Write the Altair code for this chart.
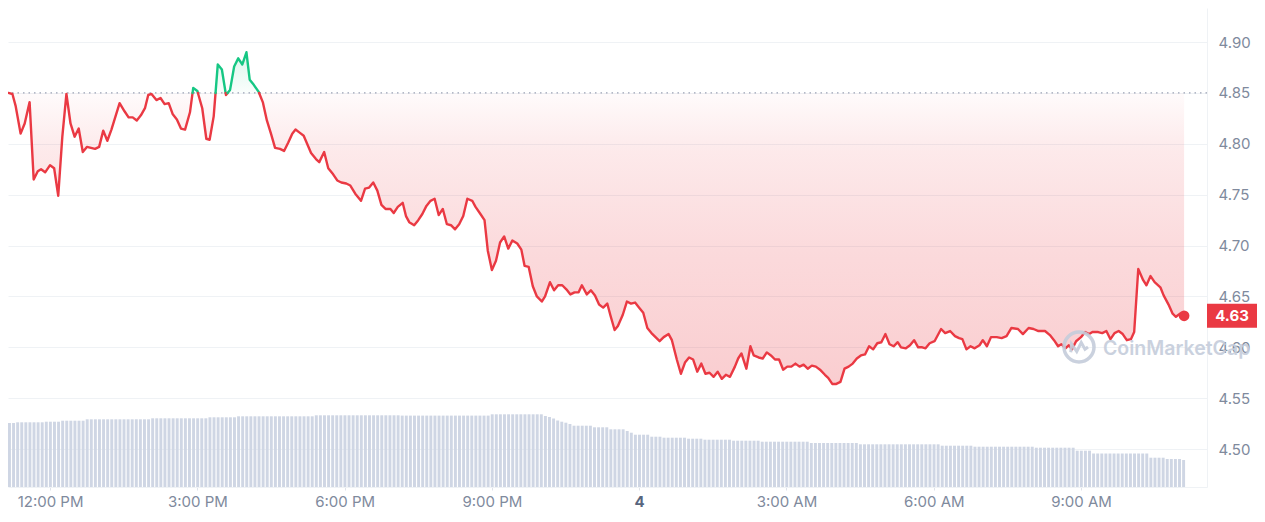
import altair as alt
import pandas as pd

# ---------------- data ----------------
START_MIN = 669          # first sample: 11:09 AM (minutes after midnight, day 3)
BASELINE = 4.85          # opening price (dotted reference line)

OFFSETS = [
    0, 5, 9, 15, 20, 26, 31, 36, 40, 45,
    51, 56, 61, 66, 71, 76, 81, 86, 91, 96,
    101, 106, 111, 116, 121, 126, 131, 136, 142, 147,
    152, 157, 162, 167, 171, 175, 181, 186, 191, 196,
    201, 206, 211, 216, 222, 226, 231, 237, 242, 246,
    251, 256, 261, 266, 271, 276, 281, 286, 291, 295,
    300, 306, 311, 316, 321, 326, 332, 337, 342, 347,
    351, 356, 361, 370, 376, 380, 386, 391, 397, 402,
    407, 413, 418, 424, 431, 436, 441, 446, 451, 456,
    461, 467, 471, 476, 482, 486, 490, 496, 501, 506,
    511, 516, 521, 526, 531, 536, 541, 546, 551, 556,
    561, 567, 571, 577, 582, 586, 591, 596, 601, 606,
    611, 616, 622, 627, 631, 636, 641, 646, 652, 656,
    662, 667, 672, 677, 682, 687, 692, 697, 701, 707,
    712, 717, 722, 727, 732, 736, 741, 745, 751, 756,
    761, 766, 771, 776, 781, 786, 791, 796, 801, 807,
    811, 817, 822, 827, 832, 837, 842, 847, 852, 857,
    862, 867, 872, 877, 882, 888, 892, 896, 902, 907,
    911, 917, 922, 927, 932, 937, 942, 947, 952, 957,
    962, 967, 972, 977, 982, 987, 992, 998, 1002, 1007,
    1012, 1017, 1022, 1027, 1032, 1037, 1042, 1047, 1052, 1057,
    1062, 1067, 1072, 1077, 1082, 1087, 1091, 1097, 1102, 1107,
    1112, 1117, 1121, 1126, 1132, 1140, 1145, 1151, 1157, 1162,
    1166, 1171, 1176, 1181, 1187, 1191, 1196, 1201, 1208, 1214,
    1220, 1226, 1234, 1240, 1247, 1253, 1259, 1267, 1273, 1278,
    1283, 1287, 1292, 1296, 1300, 1305, 1311, 1316, 1321, 1325,
    1332, 1337, 1342, 1347, 1352, 1357, 1362, 1367, 1372, 1376,
    1381, 1387, 1391, 1396, 1401, 1408, 1412, 1418, 1423, 1427,
    1432, 1437,
]

PRICES = [
    4.850, 4.849, 4.837, 4.810, 4.820, 4.841, 4.765, 4.773, 4.775, 4.772,
    4.779, 4.776, 4.749, 4.807, 4.849, 4.820, 4.807, 4.815, 4.792, 4.797,
    4.796, 4.795, 4.797, 4.813, 4.803, 4.814, 4.827, 4.840, 4.832, 4.826,
    4.826, 4.823, 4.828, 4.835, 4.848, 4.849, 4.843, 4.845, 4.839, 4.840,
    4.829, 4.824, 4.815, 4.814, 4.831, 4.855, 4.852, 4.835, 4.805, 4.804,
    4.827, 4.878, 4.873, 4.848, 4.853, 4.876, 4.884, 4.878, 4.890, 4.863,
    4.858, 4.851, 4.841, 4.823, 4.810, 4.796, 4.795, 4.793, 4.801, 4.810,
    4.814, 4.811, 4.808, 4.791, 4.785, 4.782, 4.792, 4.776, 4.770, 4.764,
    4.762, 4.761, 4.759, 4.751, 4.744, 4.756, 4.757, 4.762, 4.754, 4.740,
    4.736, 4.736, 4.732, 4.738, 4.742, 4.729, 4.723, 4.720, 4.725, 4.731,
    4.739, 4.744, 4.746, 4.730, 4.736, 4.721, 4.720, 4.716, 4.721, 4.729,
    4.746, 4.744, 4.738, 4.731, 4.725, 4.695, 4.676, 4.685, 4.703, 4.709,
    4.697, 4.705, 4.702, 4.696, 4.680, 4.679, 4.660, 4.650, 4.645, 4.650,
    4.664, 4.656, 4.661, 4.661, 4.657, 4.652, 4.654, 4.654, 4.661, 4.652,
    4.656, 4.651, 4.642, 4.639, 4.643, 4.631, 4.617, 4.621, 4.632, 4.645,
    4.643, 4.644, 4.639, 4.634, 4.619, 4.614, 4.610, 4.606, 4.610, 4.613,
    4.607, 4.588, 4.574, 4.585, 4.590, 4.588, 4.576, 4.584, 4.574, 4.575,
    4.571, 4.576, 4.569, 4.573, 4.571, 4.581, 4.589, 4.594, 4.579, 4.601,
    4.592, 4.590, 4.589, 4.595, 4.592, 4.588, 4.588, 4.578, 4.581, 4.581,
    4.584, 4.581, 4.583, 4.579, 4.582, 4.581, 4.578, 4.573, 4.570, 4.564,
    4.564, 4.566, 4.579, 4.581, 4.584, 4.589, 4.592, 4.593, 4.601, 4.598,
    4.604, 4.605, 4.613, 4.603, 4.601, 4.605, 4.600, 4.599, 4.602, 4.607,
    4.600, 4.600, 4.599, 4.604, 4.606, 4.618, 4.614, 4.616, 4.611, 4.609,
    4.608, 4.598, 4.601, 4.599, 4.602, 4.607, 4.601, 4.610, 4.610, 4.609,
    4.611, 4.619, 4.618, 4.613, 4.619, 4.618, 4.616, 4.616, 4.612, 4.607,
    4.601, 4.603, 4.599, 4.602, 4.598, 4.606, 4.610, 4.615, 4.613, 4.615,
    4.615, 4.614, 4.616, 4.608, 4.614, 4.616, 4.613, 4.607, 4.608, 4.615,
    4.677, 4.666, 4.661, 4.670, 4.664, 4.659, 4.651, 4.642, 4.633, 4.630,
    4.633, 4.631,
]

# 24h volume, one bar per 5 minutes (value, number of consecutive bars)
VOLUME_RUNS = [
    (64.0, 2), (64.7, 7), (65.3, 4), (66.3, 6), (67.7, 16), (68.7, 14),
    (69.7, 7), (70.7, 19), (71.7, 21), (71.4, 22), (72.7, 13),
    (71.0, 1), (70.0, 1), (68.5, 1), (66.5, 1), (65.3, 1), (64.3, 1),
    (63.0, 1), (61.3, 5), (59.7, 4), (57.7, 4), (56.0, 1), (54.3, 1),
    (52.3, 4), (50.3, 3), (49.3, 6), (48.3, 4), (47.3, 7), (46.3, 7),
    (45.3, 12), (44.0, 12), (42.7, 20), (41.3, 8), (40.3, 15), (39.3, 10),
    (36.3, 4), (33.5, 14), (29.3, 4), (28.0, 4), (27.0, 1),
]

Y_TICKS = [4.50, 4.55, 4.60, 4.65, 4.70, 4.75, 4.80, 4.85, 4.90]
X_TICKS = [720, 900, 1080, 1260, 1440, 1620, 1800, 1980]
X_LABELS = ["12:00 PM", "3:00 PM", "6:00 PM", "9:00 PM", "4",
            "3:00 AM", "6:00 AM", "9:00 AM"]
WATERMARK = "CoinMarketCap"

# ---------------- styling / layout ----------------
RED = "#ea3943"
GREEN = "#16c784"
GREY = "#808a9d"
DARK = "#58667e"
LIGHT = "#eff2f5"
BAR = "#cfd6e4"
WM = "#c5cddb"

W, H = 1199, 479
BOX_W = 50
X_DOMAIN = [668.6, 2134.0]
Y_DOMAIN = [4.4627, 4.9335]
VOL_DOMAIN = [0, 479]

# ---------------- derived tables ----------------
times = [START_MIN + m for m in OFFSETS]
assert len(times) == len(PRICES)

line_rows, area_rows = [], []
seg = 0
side = "up" if PRICES[0] > BASELINE else "down"
line_rows.append({"t": times[0], "p": PRICES[0], "seg": seg, "side": side})
area_rows.append({"t": times[0], "p": PRICES[0]})
for i in range(1, len(times)):
    t1, p1, t2, p2 = times[i - 1], PRICES[i - 1], times[i], PRICES[i]
    s2 = "up" if p2 > BASELINE else "down"
    if s2 != side:
        tc = t1 + (BASELINE - p1) * (t2 - t1) / (p2 - p1)
        line_rows.append({"t": tc, "p": BASELINE, "seg": seg, "side": side})
        area_rows.append({"t": tc, "p": BASELINE})
        seg += 1
        side = s2
        line_rows.append({"t": tc, "p": BASELINE, "seg": seg, "side": side})
    line_rows.append({"t": t2, "p": p2, "seg": seg, "side": side})
    area_rows.append({"t": t2, "p": p2})

line_df = pd.DataFrame(line_rows)
area_df = pd.DataFrame(area_rows)
area_df["base"] = BASELINE
area_df["lo"] = area_df["p"].clip(upper=BASELINE)
area_df["hi"] = area_df["p"].clip(lower=BASELINE)

vol = []
for v, n in VOLUME_RUNS:
    vol += [v] * n
vol_df = pd.DataFrame({"t0": [X_DOMAIN[0] + 5 * i for i in range(len(vol))], "vol": vol})
vol_df["t1"] = vol_df["t0"] + 3.6
vol_df["zero"] = 0.0

last_df = pd.DataFrame({"t": [times[-1]], "p": [PRICES[-1]],
                        "label": [f"{PRICES[-1]:.2f}"]})
base_df = pd.DataFrame({"base": [BASELINE]})
wm_df = pd.DataFrame({"label": [WATERMARK]})

# ---------------- scales / axes ----------------
xscale = alt.Scale(domain=X_DOMAIN, nice=False, zero=False)
yscale = alt.Scale(domain=Y_DOMAIN, nice=False, zero=False)

label_expr = ("[" + ",".join(f"'{s}'" for s in X_LABELS) + "][indexof(["
              + ",".join(str(v) for v in X_TICKS) + "], datum.value)]")
day_test = "datum.value == 1440"

X_AXIS = alt.Axis(
    values=X_TICKS, labelExpr=label_expr, grid=False, title=None,
    domainColor=LIGHT, tickColor="#dfe3ea", tickSize=3,
    labelPadding=4, labelFontSize=15, labelFont="Inter",
    labelFlush=False, labelOverlap=False,
    labelColor={"condition": {"test": day_test, "value": DARK}, "value": GREY},
    labelFontWeight={"condition": {"test": day_test, "value": "bold"}, "value": "normal"},
)
Y_AXIS = alt.Axis(
    values=Y_TICKS, format=".2f", orient="right", grid=True, gridColor=LIGHT,
    domainColor=LIGHT, ticks=False, labelPadding=11, labelFontSize=15,
    labelFont="Inter", labelColor=GREY, title=None,
)


def xq(field):
    return alt.X(field, type="quantitative", scale=xscale, axis=X_AXIS)


def yq(field):
    return alt.Y(field, type="quantitative", scale=yscale, axis=Y_AXIS)


red_grad = alt.Gradient(
    gradient="linear", x1=0, x2=0, y1=0, y2=1,
    stops=[alt.GradientStop(color="rgba(234,57,67,0.02)", offset=0),
           alt.GradientStop(color="rgba(234,57,67,0.11)", offset=0.2),
           alt.GradientStop(color="rgba(234,57,67,0.19)", offset=0.55),
           alt.GradientStop(color="rgba(234,57,67,0.25)", offset=1)],
)
green_grad = alt.Gradient(
    gradient="linear", x1=0, x2=0, y1=0, y2=1,
    stops=[alt.GradientStop(color="rgba(22,199,132,0.16)", offset=0),
           alt.GradientStop(color="rgba(22,199,132,0.02)", offset=1)],
)

# ---------------- layers ----------------
bars = alt.Chart(vol_df).mark_bar(color=BAR, opacity=1).encode(
    x=xq("t0"), x2="t1",
    y=alt.Y("vol:Q", scale=alt.Scale(domain=VOL_DOMAIN, nice=False), axis=None),
    y2="zero",
)

red_area = alt.Chart(area_df).mark_area(color=red_grad).encode(
    x=xq("t"), y=yq("lo"), y2="base")
green_area = alt.Chart(area_df).mark_area(color=green_grad).encode(
    x=xq("t"), y=yq("hi"), y2="base")

rule = alt.Chart(base_df).mark_rule(color="#9aa1b4", strokeDash=[1.5, 4], strokeWidth=1.2).encode(
    y=yq("base"))

line = alt.Chart(line_df).mark_line(strokeWidth=2.4, strokeJoin="round", strokeCap="round").encode(
    x=xq("t"), y=yq("p"),
    color=alt.Color("side:N", scale=alt.Scale(domain=["up", "down"], range=[GREEN, RED]), legend=None),
    detail="seg:N", order="t:Q",
)

dot = alt.Chart(last_df).mark_circle(size=115, color=RED, opacity=1).encode(x=xq("t"), y=yq("p"))

BOX = "M-1,-0.48L1,-0.48L1,0.48L-1,0.48Z"
box = alt.Chart(last_df).mark_point(shape=BOX, size=BOX_W * BOX_W, filled=True, color=RED,
                                    opacity=1, strokeWidth=0).encode(
    x=alt.value(W + BOX_W / 2), y=yq("p"))
box_text = alt.Chart(last_df).mark_text(color="white", fontSize=15, fontWeight="bold",
                                        font="Inter", align="center", baseline="middle").encode(
    x=alt.value(W + BOX_W / 2), y=yq("p"), text="label:N")

wm_text = alt.Chart(wm_df).mark_text(align="left", baseline="middle", fontSize=19.5,
                                     fontWeight=600, font="Inter", color=WM, opacity=0.9).encode(
    x=alt.value(1095), y=alt.value(341), text="label:N")
wm_ring = alt.Chart(wm_df).mark_point(shape="circle", filled=False, size=900, strokeWidth=3.5,
                                      color=WM, opacity=0.9).encode(
    x=alt.value(1071), y=alt.value(339))
WAVE = "M-0.55,0.35L-0.5,-0.2L-0.15,0.3L0.15,-0.3L0.4,0.15L0.6,0.0"
wm_wave = alt.Chart(wm_df).mark_point(shape=WAVE, filled=False, size=900, strokeWidth=3,
                                      color=WM, opacity=0.9).encode(
    x=alt.value(1071), y=alt.value(339))

price_layers = alt.layer(red_area, green_area, rule, line, dot, box, box_text,
                         wm_text, wm_ring, wm_wave)

chart = (
    alt.layer(bars, price_layers)
    .resolve_scale(y="independent")
    .properties(width=W, height=H, background="white",
                padding={"left": 0, "top": 0, "right": BOX_W, "bottom": 23},
                autosize=alt.AutoSizeParams(type="none"))
    .configure_view(stroke=None)
)

chart.save("out.html", embed_options={"renderer": "svg", "actions": False})
